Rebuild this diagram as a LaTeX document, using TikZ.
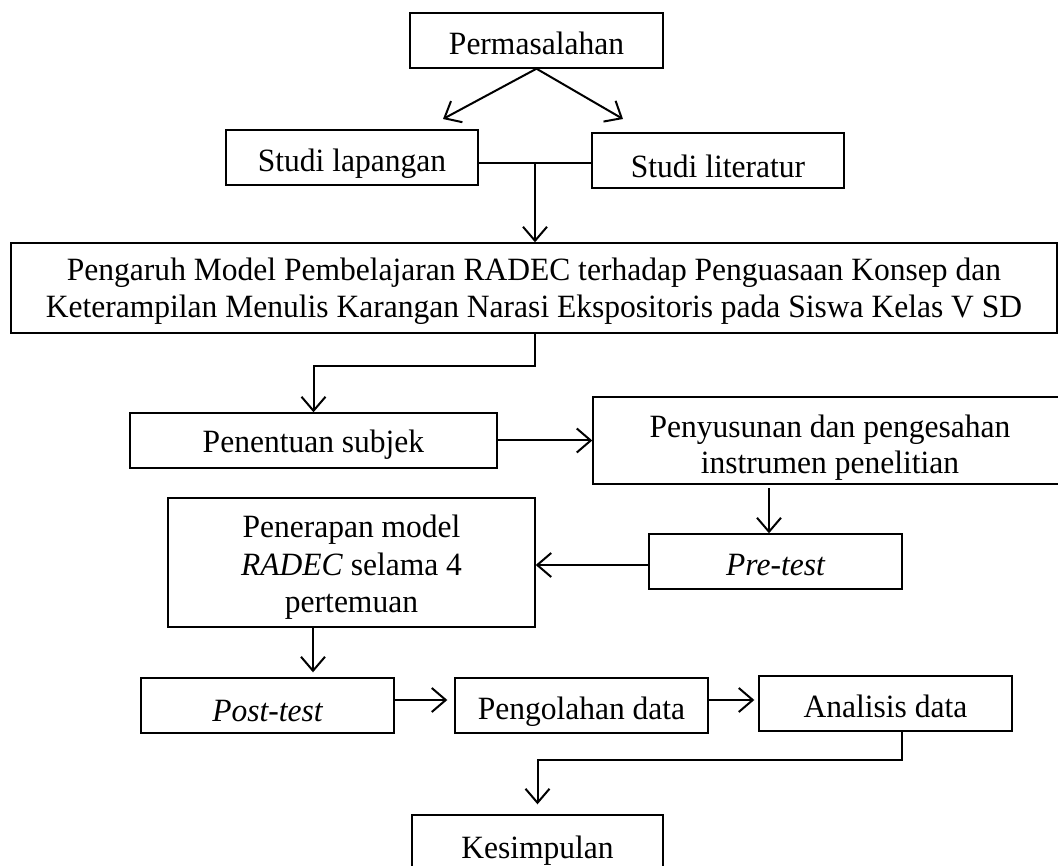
\documentclass[tikz,border=0pt]{standalone}
\usepackage{fontspec}
\setmainfont{Liberation Serif}[FakeStretch=0.97]
\usetikzlibrary{arrows.meta,calc}
\newcommand{\tup}[1]{\rule{0pt}{#1pt}}
\begin{document}
\begin{tikzpicture}[x=1pt,y=-1pt,
  box/.style={draw, line width=1.4pt, inner sep=0pt, align=center,
    font=\fontsize{32.5}{38}\selectfont},
  arr/.style={line width=2pt, -{Straight Barb[length=14pt,width=24pt,line width=2pt]}},
  ln/.style={line width=2pt}]
\useasboundingbox (0,0) rectangle (1058,866);
\clip (0,0) rectangle (1058,866);
% boxes
\node[box, minimum width=253pt, minimum height=55pt] (perm) at (536.5,40.5) {\tup{28.4}Permasalahan};
\node[box, minimum width=252pt, minimum height=55pt] (lap) at (352,157.5) {\tup{35.4}Studi lapangan};
\node[box, minimum width=252pt, minimum height=55pt] (lit) at (718,160.5) {\tup{34.4}Studi literatur};
\node[box, minimum width=1046pt, minimum height=90pt, font=\fontsize{32.5}{36.5}\selectfont] (big) at (534,288)
  {\tup{29.4}Pengaruh Model Pembelajaran RADEC terhadap Penguasaan Konsep dan\\
   Keterampilan Menulis Karangan Narasi Ekspositoris pada Siswa Kelas V SD};
\node[box, minimum width=367pt, minimum height=55pt] (pen) at (313.5,440.5) {\tup{31.4}Penentuan subjek};
\node[box, minimum width=474pt, minimum height=87pt, font=\fontsize{32.5}{36}\selectfont] (pny) at (830,440.5)
  {\tup{36.4}Penyusunan dan pengesahan\\instrumen penelitian};
\node[box, minimum width=253pt, minimum height=55pt] (pre) at (775.5,561.5) {\tup{28.4}\itshape Pre-test};
\node[box, minimum width=367pt, minimum height=129pt, font=\fontsize{32.5}{37.5}\selectfont] (ner) at (351.5,562.5)
  {\tup{32.4}Penerapan model\\\textit{RADEC} selama 4\\pertemuan};
\node[box, minimum width=253pt, minimum height=55pt] (post) at (267.5,705.5) {\tup{32.4}\itshape Post-test};
\node[box, minimum width=253pt, minimum height=55pt] (olah) at (581.5,705.5) {\tup{34.4}Pengolahan data};
\node[box, minimum width=253pt, minimum height=55pt] (anl) at (885.5,703.5) {\tup{28.4}Analisis data};
\node[box, minimum width=251pt, minimum height=60pt] (kes) at (537.5,845) {\tup{34.4}Kesimpulan};
% helper coordinates
\coordinate (pl) at (443,119);
\coordinate (pr) at (623,119);
\coordinate (j1) at (535,163);
\coordinate (j2) at (535,366);
\coordinate (j3) at (769,488);
\coordinate (j4) at (0,565);
\coordinate (j5) at (313,0);
\coordinate (j7) at (0,700);
\coordinate (j6) at (902,760);
% connectors
\draw[arr] (perm.south) -- (pl);
\draw[arr] (perm.south) -- (pr);
\draw[ln] (lap.east |- j1) -- (lit.west |- j1);
\draw[arr] (j1) -- (j1 |- big.north);
\draw[arr] (j2 |- big.south) -- (j2) -| (pen.north);
\draw[arr] (pen.east) -- (pny.west);
\draw[arr] (j3) -- (j3 |- pre.north);
\draw[arr] (pre.west |- j4) -- (ner.east |- j4);
\draw[arr, shorten >=5pt] (j5 |- ner.south) -- (j5 |- post.north);
\draw[arr, shorten >=7pt] (post.east |- j7) -- (olah.west |- j7);
\draw[arr, shorten >=4pt] (olah.east |- j7) -- (anl.west |- j7);
\draw[arr, shorten >=10pt] (j6 |- anl.south) -- (j6) -| (kes.north);
\end{tikzpicture}
\end{document}
